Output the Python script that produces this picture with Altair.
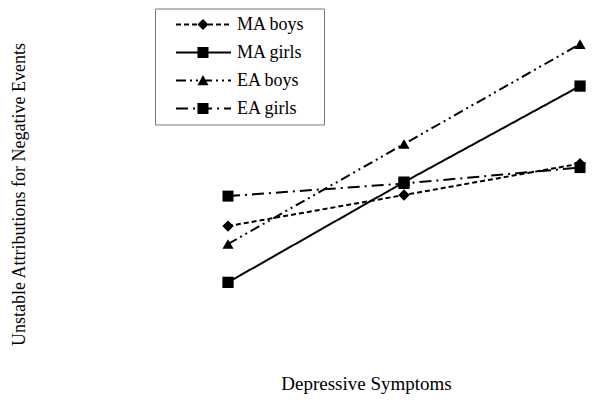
import altair as alt
import pandas as pd

series = ["MA boys", "MA girls", "EA boys", "EA girls"]
x_levels = [1, 2, 3]
ma_boys = [2.64, 3.75, 4.87]
ma_girls = [0.63, 4.21, 7.64]
ea_boys = [2.0, 5.57, 9.14]
ea_girls = [3.71, 4.16, 4.73]

rows = []
for name, vals in zip(series, [ma_boys, ma_girls, ea_boys, ea_girls]):
    for xv, yv in zip(x_levels, vals):
        rows.append({"series": name, "x": xv, "y": yv})
df = pd.DataFrame(rows)

dashes = [[5, 3], [1, 0], [10, 4, 2, 4, 2, 4], [12, 5, 2, 5]]
shapes = ["diamond", "square", "triangle-up", "square"]
sizes = [130, 121, 150, 121]

# legend symbol geometry (unit box, scaled by sqrt(symbolSize)/2)
line_l, line_r = -0.623, 0.971
c, h = 0.188, 0.16
legend_line = f"M{line_l},0L{line_r},0"
legend_markers = [
    f"M{c-h},0L{c},{-h}L{c+h},0L{c},{h}Z",
    f"M{c-h},{-h}L{c+h},{-h}L{c+h},{h}L{c-h},{h}Z",
    f"M{c},{-h}L{c+h},{h*0.85}L{c-h},{h*0.85}Z",
    f"M{c-h},{-h}L{c+h},{-h}L{c+h},{h}L{c-h},{h}Z",
]
marker_keys = [s + "\u00a0" for s in series]

x_scale = alt.Scale(domain=[0.5, 3.068], nice=False, zero=False)
y_scale = alt.Scale(domain=[0, 10], nice=False, zero=False)

x_axis = alt.Axis(
    title="Depressive Symptoms", labels=False, ticks=False, domain=False, grid=False,
    titleFont="Liberation Serif", titleFontSize=19, titleFontWeight="normal",
    titleColor="black", titleBaseline="alphabetic", titleY=89,
)
y_axis = alt.Axis(
    title="Unstable Attributions for Negative Events", labels=False, ticks=False,
    domain=False, grid=False, titleFont="Liberation Serif", titleFontSize=18,
    titleFontWeight="normal", titleColor="black", titleAngle=270,
    titleBaseline="alphabetic", titleAlign="center", titleX=-116, titleY=174,
)

common = dict(
    title=None, orient="none", legendX=15, legendY=-11.5,
    padding=7, rowPadding=10, clipHeight=18,
    labelFont="Liberation Serif", labelFontSize=18,
    labelBaseline="middle",
    symbolSize=4761, symbolOpacity=1,
)

line_legend = alt.Legend(
    **common, labelColor="black", labelOffset=4, symbolType=legend_line,
    symbolStrokeWidth=2, symbolStrokeColor="black",
    strokeColor="transparent", fillColor="white", zindex=1,
)
marker_legend = alt.Legend(
    **common, labelColor="black", labelOpacity=0, labelExpr="'.'", labelOffset=81.5,
    symbolFillColor="black", symbolStrokeWidth=0,
    strokeColor="#777777", fillColor="transparent", zindex=2,
)

lines = alt.Chart(df).mark_line(color="black", strokeWidth=2).encode(
    x=alt.X("x:Q", scale=x_scale, axis=x_axis),
    y=alt.Y("y:Q", scale=y_scale, axis=y_axis),
    strokeDash=alt.StrokeDash(
        "series:N", scale=alt.Scale(domain=series, range=dashes), legend=line_legend
    ),
    detail="series:N",
)

points = alt.Chart(df).mark_point(filled=True, color="black", opacity=1).encode(
    x=alt.X("x:Q", scale=x_scale),
    y=alt.Y("y:Q", scale=y_scale),
    shape=alt.Shape("series:N", scale=alt.Scale(domain=series, range=shapes), legend=None),
    size=alt.Size("series:N", scale=alt.Scale(domain=series, range=sizes), legend=None),
)

legend_layer = (
    alt.Chart(df)
    .transform_filter("false")
    .mark_point(filled=True, color="black", opacity=1)
    .encode(
        x=alt.X("x:Q", scale=x_scale),
        y=alt.Y("y:Q", scale=y_scale),
        shape=alt.Shape(
            "series:N",
            scale=alt.Scale(domain=marker_keys, range=legend_markers),
            legend=marker_legend,
        ),
    )
)

chart = (
    alt.layer(lines, points, legend_layer)
    .resolve_scale(shape="independent", size="independent", strokeDash="independent")
    .properties(
        width=452, height=280,
        autosize=alt.AutoSizeParams(type="none"),
        padding={"left": 132, "top": 12, "right": 0, "bottom": 95},
        background="white",
    )
    .configure_view(stroke=None)
)

chart.save("out.html", embed_options={"renderer": "svg", "actions": False})
